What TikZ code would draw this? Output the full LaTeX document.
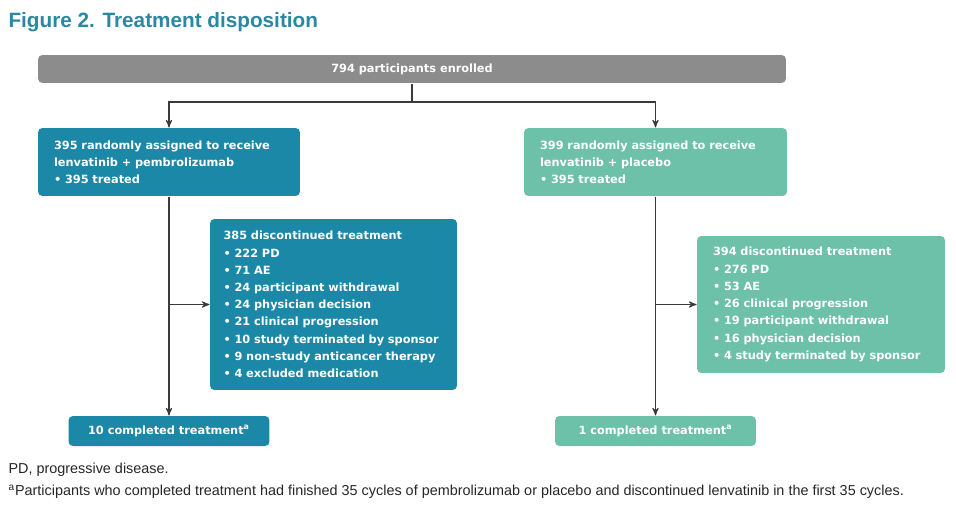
\documentclass[tikz,border=0pt]{standalone}
\usepackage{fontspec}
\setmainfont{DejaVu Sans}
\newfontfamily\titlefont{Liberation Sans}
\newfontfamily\notefont{Liberation Sans}
\usetikzlibrary{arrows,shapes}

\definecolor{titleteal}{HTML}{2A88A2}
\definecolor{armdark}{HTML}{1B88A7}
\definecolor{armlight}{HTML}{6DC1A9}
\definecolor{bargrey}{HTML}{8C8C8C}
\definecolor{linegrey}{HTML}{3A3A3A}

\tikzset{
  flowbox/.style={rectangle,rounded corners=2.5pt,text=white,align=left,inner xsep=0.32cm,
    font=\bfseries\fontsize{6.45}{9.8}\selectfont},
  donebox/.style={rectangle,rounded corners=2.5pt,text=white,align=center,
    minimum width=4.02cm,minimum height=0.6cm,font=\bfseries\fontsize{6.45}{9.8}\selectfont},
  footnote/.style={anchor=west,inner sep=0pt,text=black!85,font=\notefont\fontsize{8.2}{9}\selectfont}
}

\begin{document}
\begin{tikzpicture}[->,>=stealth',x=0.02cm,y=-0.02cm,line width=0.6pt,draw=linegrey]
\useasboundingbox (0,0) rectangle (956,517);
% title
\node[anchor=west,inner sep=0pt,text=titleteal,font=\titlefont\bfseries\fontsize{11.8}{13}\selectfont](Title)at(8,22){Figure 2. Treatment disposition};
% enrolled bar
\node[rectangle,rounded corners=2.5pt,fill=bargrey,text=white,minimum width=14.96cm,minimum height=0.56cm,
  font=\bfseries\fontsize{6.45}{9.8}\selectfont](Enrolled)at(412,69){794 participants enrolled};
\coordinate(Split)at(412,102);

% randomised arms
\node[flowbox,fill=armdark,text width=4.6cm,minimum height=1.36cm](ArmA)at(169,162)
  {395 randomly assigned to receive\\lenvatinib + pembrolizumab\\\textbullet{} 395 treated};
\node[flowbox,fill=armlight,text width=4.62cm,minimum height=1.36cm](ArmB)at(655.5,162)
  {399 randomly assigned to receive\\lenvatinib + placebo\\\textbullet{} 395 treated};

% discontinued
\node[flowbox,fill=armdark,inner xsep=0.27cm,text width=4.4cm,minimum height=3.42cm](DiscA)at(333.5,304.5)
  {385 discontinued treatment\\\textbullet{} 222 PD\\\textbullet{} 71 AE\\\textbullet{} 24 participant withdrawal\\
   \textbullet{} 24 physician decision\\\textbullet{} 21 clinical progression\\\textbullet{} 10 study terminated by sponsor\\
   \textbullet{} 9 non-study anticancer therapy\\\textbullet{} 4 excluded medication};
\node[flowbox,fill=armlight,text width=4.32cm,minimum height=2.74cm](DiscB)at(821,304.5)
  {394 discontinued treatment\\\textbullet{} 276 PD\\\textbullet{} 53 AE\\\textbullet{} 26 clinical progression\\
   \textbullet{} 19 participant withdrawal\\\textbullet{} 16 physician decision\\\textbullet{} 4 study terminated by sponsor};

% completed
\node[donebox,fill=armdark](DoneA)at(169,431){10 completed treatment\textsuperscript{a}};
\node[donebox,fill=armlight](DoneB)at(655.5,431){1 completed treatment\textsuperscript{a}};

% connectors
\draw[-](Enrolled.south) -- (Split);
\draw(Split) -| (ArmA.north);
\draw(Split) -| (ArmB.north);
\draw(ArmA.south) -- (DoneA.north);
\draw(ArmB.south) -- (DoneB.north);
\draw(ArmA.south |- DiscA.west) -- (DiscA.west);
\draw(ArmB.south |- DiscB.west) -- (DiscB.west);

% notes
\node[footnote](NoteA)at(8,470){PD, progressive disease.};
\node[footnote](NoteB)at(8,492){\textsuperscript{a}Participants who completed treatment had finished 35 cycles of pembrolizumab or placebo and discontinued lenvatinib in the first 35 cycles.};
\end{tikzpicture}
\end{document}
